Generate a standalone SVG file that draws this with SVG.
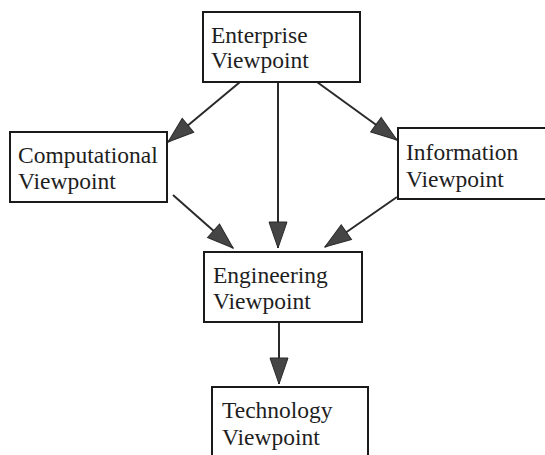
<svg xmlns="http://www.w3.org/2000/svg" width="545" height="455" viewBox="0 0 545 455">
<style>
.box{fill:#fff;stroke:#1a1a1a;stroke-width:2}
.lbl{font-family:"Liberation Serif","Times New Roman",serif;font-size:23.5px;fill:#1e1e1e}
.conn{stroke:#2a2a2a;stroke-width:2;fill:none}
</style>
<defs>
<marker id="ah" markerUnits="userSpaceOnUse" markerWidth="28" markerHeight="20" refX="27" refY="10" orient="auto">
<path d="M1,1 L27,10 L1,19 z" fill="#454545" stroke="#2a2a2a" stroke-width="1"/>
</marker>
</defs>
<rect width="545" height="455" fill="#fff"/>
<g id="connectors">
<line class="conn" x1="240" y1="82" x2="168" y2="142" marker-end="url(#ah)"/>
<line class="conn" x1="278" y1="82" x2="278" y2="248" marker-end="url(#ah)"/>
<line class="conn" x1="317" y1="82" x2="397" y2="140" marker-end="url(#ah)"/>
<line class="conn" x1="173" y1="195" x2="233" y2="248" marker-end="url(#ah)"/>
<line class="conn" x1="397" y1="197" x2="325" y2="247" marker-end="url(#ah)"/>
<line class="conn" x1="279" y1="322" x2="279" y2="384" marker-end="url(#ah)"/>
</g>
<g id="enterprise">
<rect class="box" x="203" y="12" width="157" height="70"/>
<text class="lbl" x="211" y="43">Enterprise</text>
<text class="lbl" x="211" y="68">Viewpoint</text>
</g>
<g id="computational">
<rect class="box" x="10" y="132" width="157" height="70"/>
<text class="lbl" x="18" y="163">Computational</text>
<text class="lbl" x="18" y="189">Viewpoint</text>
</g>
<g id="information">
<rect class="box" x="398" y="128" width="160" height="71"/>
<text class="lbl" x="406" y="160">Information</text>
<text class="lbl" x="406" y="187">Viewpoint</text>
</g>
<g id="engineering">
<rect class="box" x="204" y="252" width="158" height="70"/>
<text class="lbl" x="213" y="283">Engineering</text>
<text class="lbl" x="213" y="309">Viewpoint</text>
</g>
<g id="technology">
<rect class="box" x="212" y="387" width="156" height="80"/>
<text class="lbl" x="222" y="418">Technology</text>
<text class="lbl" x="222" y="445">Viewpoint</text>
</g>
</svg>
